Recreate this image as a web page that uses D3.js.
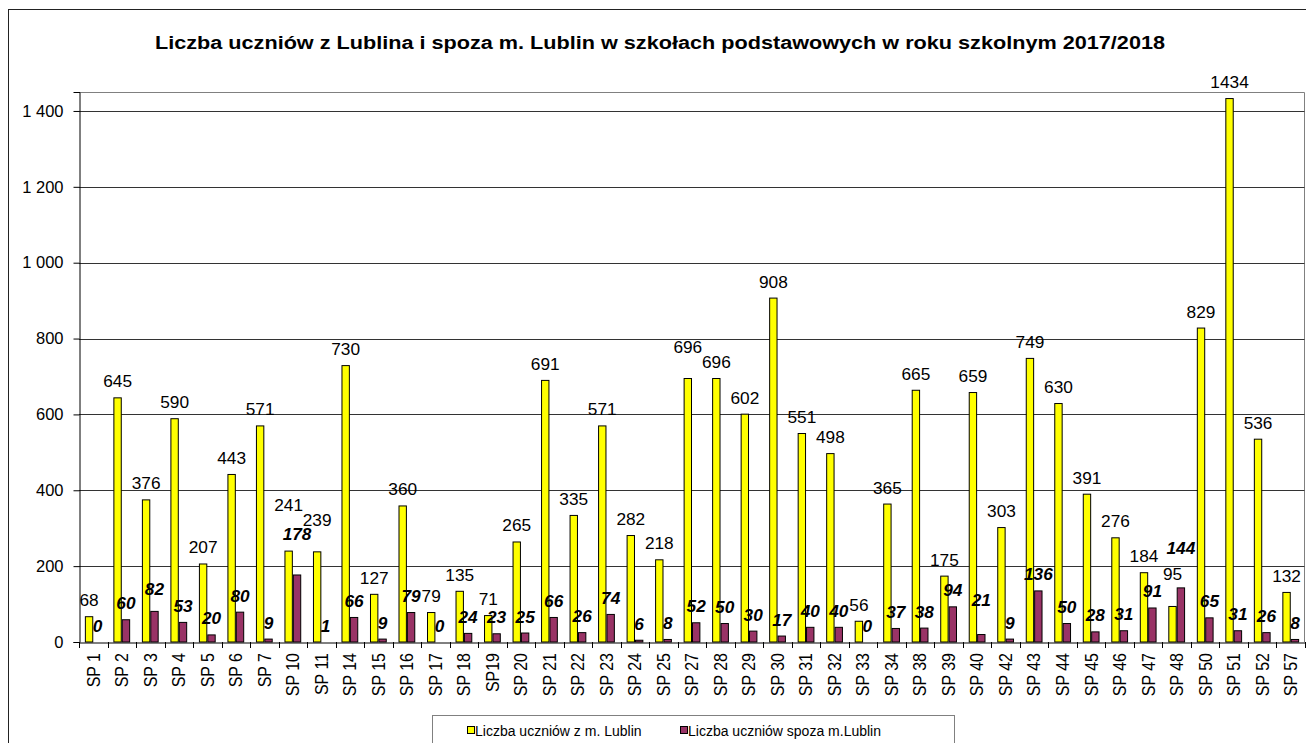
<!DOCTYPE html>
<html>
<head>
<meta charset="utf-8">
<script src="https://cdn.jsdelivr.net/npm/d3@7/dist/d3.min.js"></script>
<style>
  html, body { margin: 0; padding: 0; background: #fff; }
  svg { display: block; font-family: "Liberation Sans", Arial, sans-serif; }
</style>
</head>
<body>
<svg id="chart" width="1306" height="743"></svg>
<script>
const categories = ["SP 1","SP 2","SP 3","SP 4","SP 5","SP 6","SP 7","SP 10","SP 11","SP 14","SP 15","SP 16","SP 17","SP 18","SP19","SP 20","SP 21","SP 22","SP 23","SP 24","SP 25","SP 27","SP 28","SP 29","SP 30","SP 31","SP 32","SP 33","SP 34","SP 38","SP 39","SP 40","SP 42","SP 43","SP 44","SP 45","SP 46","SP 47","SP 48","SP 50","SP 51","SP 52","SP 57"];
const fromLublin = [68,645,376,590,207,443,571,241,239,730,127,360,79,135,71,265,691,335,571,282,218,696,696,602,908,551,498,56,365,665,175,659,303,749,630,391,276,184,95,829,1434,536,132];
const outsideLublin = [0,60,82,53,20,80,9,178,1,66,9,79,0,24,23,25,66,26,74,6,8,52,50,30,17,40,40,0,37,38,94,21,9,136,50,28,31,91,144,65,31,26,8];
const seriesNames = ["Liczba uczniów z m. Lublin", "Liczba uczniów spoza m.Lublin"];
const yTicks = [0,200,400,600,800,1000,1200,1400];
const title = "Liczba uczniów z Lublina i spoza m. Lublin w szkołach podstawowych w roku szkolnym 2017/2018";

// extra lift for a few labels that were moved by hand in the original
const liftA = {"SP 10": 30, "SP 11": 15, "SP 27": 15, "SP 48": 16};
const liftB = {"SP 10": 24, "SP 48": 23, "SP 40": 18, "SP 3": 6};

const colors = ["#FFFF00", "#993366"];

const svg = d3.select("#chart");
const pLeft = 79, pRight = 1305, pTop = 92, pBottom = 642;

const x = d3.scaleBand().domain(categories).range([pLeft, pRight]).paddingInner(0).paddingOuter(0);
const xi = d3.scaleBand().domain([0, 1]).range([0, x.bandwidth()]).paddingInner(0).paddingOuter(0.7);
const y = d3.scaleLinear().domain([0, 1450]).range([pBottom, pTop]);

// outer chart border
svg.append("rect").attr("x", 8.5).attr("y", 9.5).attr("width", 1320).attr("height", 760)
  .attr("fill", "none").attr("stroke", "#222").attr("stroke-width", 1);

// title
svg.append("text").attr("x", 660).attr("y", 49).attr("text-anchor", "middle")
  .attr("font-size", 18).attr("font-weight", "bold").attr("fill", "#000")
  .attr("textLength", 1010).attr("lengthAdjust", "spacingAndGlyphs").text(title);

// plot border (top/right)
svg.append("path").attr("d", `M${pLeft},${pTop + 0.5}H${pRight - 0.5}V${pBottom}`)
  .attr("fill", "none").attr("stroke", "#808080").attr("stroke-width", 1);

// gridlines
svg.append("g").selectAll("line").data(yTicks.filter(d => d > 0)).join("line")
  .attr("x1", pLeft).attr("x2", pRight - 0.5)
  .attr("y1", d => Math.round(y(d)) + 0.5).attr("y2", d => Math.round(y(d)) + 0.5)
  .attr("stroke", "#333").attr("stroke-width", 1);

// y axis
const yAxis = d3.axisLeft(y).tickValues(yTicks).tickSize(6).tickPadding(10)
  .tickFormat(d => d3.format(",")(d).replace(",", " "));
const gy = svg.append("g").attr("transform", `translate(${pLeft + 0.5},0)`).call(yAxis);
gy.select(".domain").attr("stroke", "#000");
gy.selectAll(".tick line").attr("stroke", "#000");
gy.selectAll(".tick text").attr("font-size", 16.5).attr("fill", "#000")
  .attr("font-family", "Liberation Sans, Arial, sans-serif");

// bars
const g = svg.append("g");
categories.forEach((c, i) => {
  const vals = [fromLublin[i], outsideLublin[i]];
  vals.forEach((v, k) => {
    const bx = x(c) + xi(k);
    const by = y(v);
    if (v > 0) {
      g.append("rect").attr("x", bx + 0.5).attr("y", by + 0.5)
        .attr("width", xi.bandwidth() - 1).attr("height", Math.max(0, pBottom - by - 0.5))
        .attr("fill", colors[k]).attr("stroke", "#000").attr("stroke-width", 1);
    }
  });
});

// x axis
const xAxis = d3.axisBottom(x).tickSize(0).tickPadding(0);
const gx = svg.append("g").attr("transform", `translate(0,${pBottom + 0.5})`).call(xAxis);
gx.select(".domain").attr("stroke", "#000");
gx.selectAll(".tick text").remove();
// boundary tick marks
svg.append("g").selectAll("line").data(d3.range(categories.length + 1)).join("line")
  .attr("x1", i => Math.round(pLeft + i * x.step()) + 0.5)
  .attr("x2", i => Math.round(pLeft + i * x.step()) + 0.5)
  .attr("y1", pBottom).attr("y2", pBottom + 6).attr("stroke", "#000");
// rotated category labels
svg.append("g").selectAll("text").data(categories).join("text")
  .attr("transform", d => `translate(${x(d) + x.bandwidth() / 2},${pBottom + 11}) rotate(-90) scale(1,1.1)`)
  .attr("text-anchor", "end").attr("dy", "0.36em")
  .attr("font-size", 16).attr("fill", "#000").text(d => d);

// data labels
const lab = svg.append("g");
categories.forEach((c, i) => {
  const a = fromLublin[i], b = outsideLublin[i];
  const ax = x(c) + xi(0) + xi.bandwidth() / 2;
  const ay = y(a) - 10 - (liftA[c] || 0);
  lab.append("text")
    .attr("transform", `translate(${ax},${ay}) scale(1.08,1)`)
    .attr("text-anchor", "middle").attr("font-size", 16).attr("fill", "#000")
    .text(a);
  const bx = x(c) + xi(1) + xi.bandwidth() / 2;
  const by = y(b) - 10 - (liftB[c] || 0);
  lab.append("text")
    .attr("transform", `translate(${bx},${by}) scale(1.08,1)`)
    .attr("text-anchor", "middle").attr("font-size", 16)
    .attr("font-weight", "bold").attr("font-style", "italic").attr("fill", "#000")
    .text(b);
});

// legend
const lg = svg.append("g");
lg.append("rect").attr("x", 432.5).attr("y", 715.5).attr("width", 522).attr("height", 40)
  .attr("fill", "#fff").attr("stroke", "#808080");
const legendX = [467, 680];
seriesNames.forEach((n, k) => {
  lg.append("rect").attr("x", legendX[k] + 0.5).attr("y", 726.5).attr("width", 7).attr("height", 7)
    .attr("fill", colors[k]).attr("stroke", "#000");
  lg.append("text").attr("x", legendX[k] + 8).attr("y", 735.5)
    .attr("font-size", 14).attr("fill", "#000").text(n);
});
</script>
</body>
</html>
